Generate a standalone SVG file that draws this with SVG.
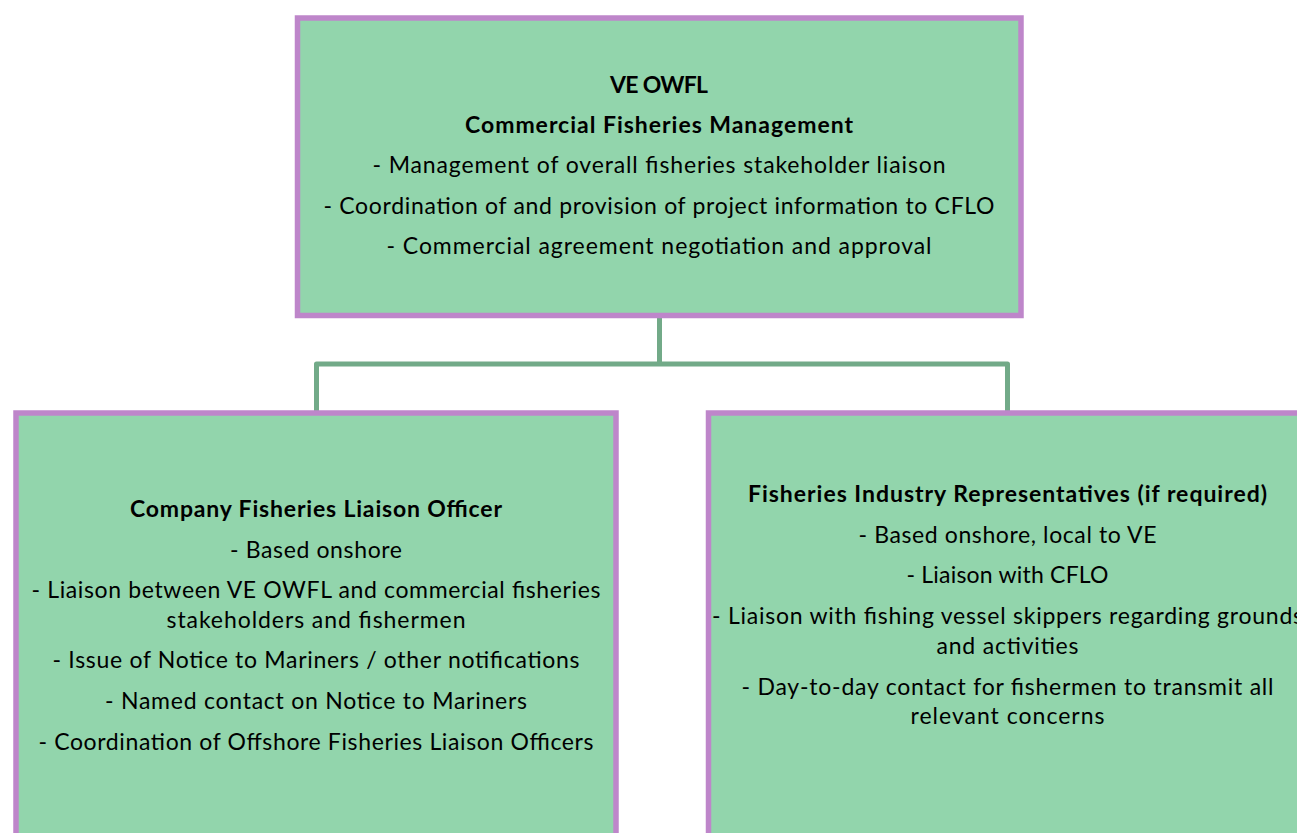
<svg xmlns="http://www.w3.org/2000/svg" width="1297" height="833" viewBox="0 0 1297 833">
<style>
.box{fill:#92D5AC;stroke:#BE86CA;stroke-width:5.5}
.conn{fill:none;stroke:#72AA88;stroke-width:5;stroke-linejoin:round}
text{font-family:Lato,"Liberation Sans",sans-serif;font-size:23px;fill:#000;text-anchor:middle}
.b{font-weight:bold}
</style>
<rect width="1297" height="833" fill="#fff"/>
<g id="connectors">
<path class="conn" d="M659.5 318 V364"/>
<path class="conn" d="M316.5 413 V364 H1007.5 V413"/>
</g>
<g id="node-top">
<rect class="box" x="297.5" y="18" width="723.5" height="297.5"/>
<text class="b" x="659" y="93" textLength="98">VE OWFL</text>
<text class="b" x="659" y="133" textLength="388">Commercial Fisheries Management</text>
<text x="659" y="173" textLength="573">- Management of overall fisheries stakeholder liaison</text>
<text x="659" y="214" textLength="671">- Coordination of and provision of project information to CFLO</text>
<text x="659" y="254" textLength="545">- Commercial agreement negotiation and approval</text>
</g>
<g id="node-cflo">
<rect class="box" x="16" y="413" width="600" height="500"/>
<text class="b" x="316" y="517" textLength="372">Company Fisheries Liaison Officer</text>
<text x="316" y="558" textLength="172">- Based onshore</text>
<text x="316" y="598" textLength="569">- Liaison between VE OWFL and commercial fisheries</text>
<text x="316" y="628" textLength="299">stakeholders and fishermen</text>
<text x="316" y="668" textLength="527">- Issue of Notice to Mariners / other notifications</text>
<text x="316" y="709" textLength="422">- Named contact on Notice to Mariners</text>
<text x="316" y="750" textLength="555">- Coordination of Offshore Fisheries Liaison Officers</text>
</g>
<g id="node-fir">
<rect class="box" x="708.5" y="413" width="600" height="500"/>
<text class="b" x="1007.5" y="502" textLength="519">Fisheries Industry Representatives (if required)</text>
<text x="1007.5" y="543" textLength="298">- Based onshore, local to VE</text>
<text x="1007.5" y="583" textLength="202">- Liaison with CFLO</text>
<text x="1007.5" y="624" textLength="591">- Liaison with fishing vessel skippers regarding grounds</text>
<text x="1007.5" y="654" textLength="142">and activities</text>
<text x="1007.5" y="695" textLength="532">- Day-to-day contact for fishermen to transmit all</text>
<text x="1007.5" y="724" textLength="194">relevant concerns</text>
</g>
</svg>
